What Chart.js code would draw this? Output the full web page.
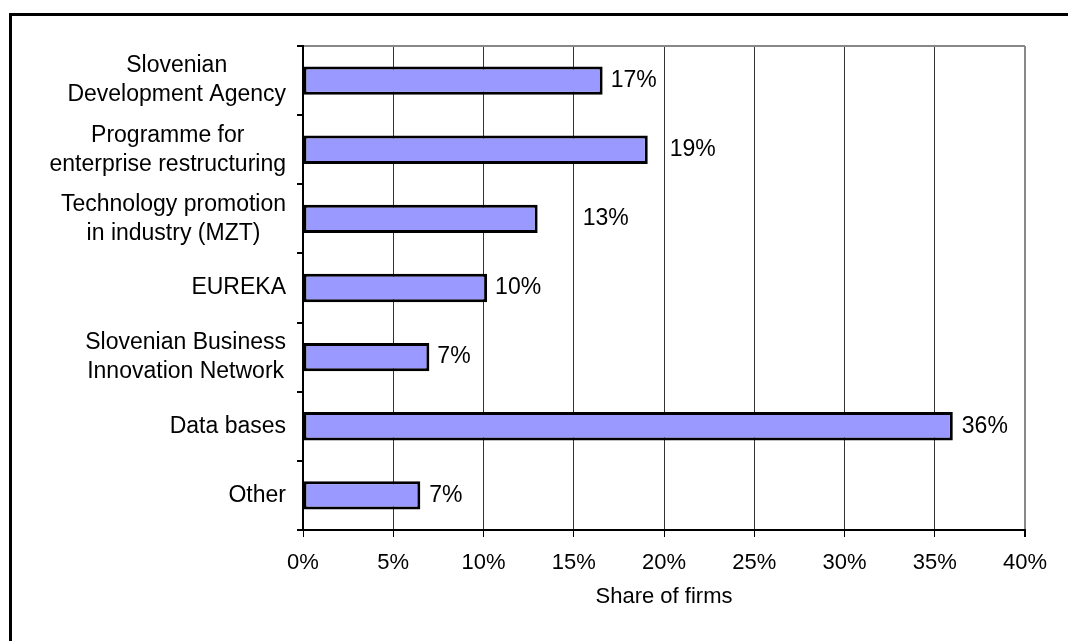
<!DOCTYPE html>
<html>
<head>
<meta charset="utf-8">
<script src="https://cdn.jsdelivr.net/npm/chart.js@4"></script>
<style>
  html, body { margin: 0; padding: 0; background: #fff; }
</style>
</head>
<body>
<canvas id="myChart" width="1068" height="641"></canvas>
<script>
const categories = [
  ['Slovenian', 'Development Agency'],
  ['Programme for', 'enterprise restructuring'],
  ['Technology promotion', 'in industry (MZT)'],
  ['EUREKA'],
  ['Slovenian Business', 'Innovation Network'],
  ['Data bases'],
  ['Other']
];
const shares = [16.6, 19.1, 13.0, 10.2, 7.0, 36.0, 6.5];
const shareLabels = ['17%', '19%', '13%', '10%', '7%', '36%', '7%'];
const xTicks = [0, 5, 10, 15, 20, 25, 30, 35, 40];

const FONT = '"Liberation Sans", Arial, sans-serif';
// gap between bar end and its value label, px
const labelGap = [8, 22, 45, 8, 8, 9, 9];

const frame = {
  id: 'frame',
  beforeDraw(chart) {
    const c = chart.ctx;
    c.save();
    c.strokeStyle = '#000';
    c.lineWidth = 3;
    c.strokeRect(10.5, 14.5, 3000, 3000);
    c.restore();
  }
};

const textLabels = {
  id: 'textLabels',
  afterDatasetsDraw(chart) {
    const c = chart.ctx;
    const meta = chart.getDatasetMeta(0);
    c.save();
    c.font = '23px ' + FONT;
    c.fillStyle = '#000';
    c.textBaseline = 'middle';
    c.textAlign = 'left';
    meta.data.forEach((bar, i) => {
      c.fillText(shareLabels[i], bar.x + labelGap[i], bar.y);
    });
    const ys = chart.scales.y;
    c.textAlign = 'center';
    categories.forEach((lines, i) => {
      const w = Math.max(...lines.map(l => c.measureText(l).width));
      const cx = ys.right - 17 - w / 2;
      const cy = ys.getPixelForValue(i);
      lines.forEach((l, j) => {
        c.fillText(l, cx, cy + (j - (lines.length - 1) / 2) * 29);
      });
    });
    c.restore();
  }
};

new Chart(document.getElementById('myChart'), {
  type: 'bar',
  data: {
    labels: categories,
    datasets: [{
      data: shares,
      backgroundColor: '#9999FF',
      borderColor: '#000',
      borderWidth: 3,
      borderSkipped: false,
      categoryPercentage: 1,
      barPercentage: 0.41
    }]
  },
  options: {
    indexAxis: 'y',
    responsive: false,
    animation: false,
    layout: { padding: { left: 0, top: 46, right: 43, bottom: 0 } },
    plugins: { legend: { display: false }, tooltip: { enabled: false } },
    scales: {
      x: {
        min: 0,
        max: 40,
        afterBuildTicks: (s) => { s.ticks = xTicks.map(v => ({ value: v })); },
        afterFit: (s) => { s.height = 111; },
        border: { color: '#000', width: 2 },
        grid: {
          color: (ctx) => (ctx.tick && ctx.tick.value === 40) ? '#888' : '#333',
          lineWidth: (ctx) => (ctx.tick && ctx.tick.value === 40) ? 2 : 1,
          tickColor: '#000',
          tickLength: 7
        },
        ticks: {
          padding: 13,
          color: '#000',
          font: { family: FONT, size: 22 },
          callback: (v) => v + '%'
        },
        title: {
          display: true,
          text: 'Share of firms',
          color: '#000',
          font: { family: FONT, size: 22 },
          padding: { top: 0, bottom: 31 }
        }
      },
      y: {
        afterFit: (s) => { s.width = 303; },
        border: { color: '#000', width: 2 },
        grid: {
          offset: true,
          color: (ctx) => ctx.index === 0 ? '#888' : 'rgba(0,0,0,0)',
          lineWidth: 2,
          tickColor: '#000',
          tickLength: 6
        },
        ticks: { display: false }
      }
    }
  },
  plugins: [frame, textLabels]
});
</script>
</body>
</html>
